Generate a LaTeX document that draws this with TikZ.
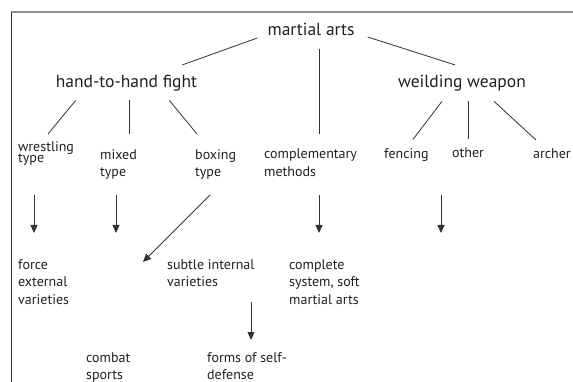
\documentclass[tikz,border=0pt]{standalone}
\usepackage{fontspec}
\setmainfont{PT Sans}
\usetikzlibrary{arrows.meta}
\definecolor{cInk}{RGB}{35,31,32}
\definecolor{cLine}{RGB}{50,50,50}
\definecolor{cFrame}{RGB}{145,145,145}

\begin{document}
\begin{tikzpicture}[
  x=1pt, y=-1pt,
  big/.style={font=\fontsize{17.5}{21}\selectfont, text=cInk, inner sep=0pt},
  small/.style={font=\fontsize{14}{17.5}\selectfont, text=cInk, inner sep=0pt,
    align=left},
  link/.style={cLine, line width=0.8pt},
  arr/.style={-{Triangle[length=8pt,width=7pt]}, cLine, line width=0.8pt},
]
\useasboundingbox (0,0) rectangle (573,382);

% frame
\draw[cFrame, line width=1.3pt] (11,12) -- (573,12);
\draw[cLine, line width=1pt] (11.5,12) -- (11.5,382);

% top levels
\node[big, anchor=base] (martial) at (311,35.5) {martial arts};
\node[big, anchor=base] (hand) at (126.5,87.5) {hand-to-hand fight};
\node[big, anchor=base] (weapon) at (462,87.5) {weilding weapon};

% kinds
\node[small, anchor=north west] (wrestling) at (18,141) {wrestling\\[-6pt]type};
\node[small, anchor=north west] (mixed) at (100,149) {mixed\\type};
\node[small, anchor=north west] (boxing) at (195,149) {boxing\\type};
\node[small, anchor=north west] (complementary) at (264,149)
  {complementary\\methods};
\node[small, anchor=base west] (fencing) at (384,159) {fencing};
\node[small, anchor=base west] (other) at (452,158) {other};
\node[small, anchor=base west] (archer) at (533,159) {archer};

% results
\node[small, anchor=north west] (force) at (18,259)
  {force\\external\\varieties};
\node[small, anchor=north west] (subtle) at (167,259)
  {subtle internal\\varieties};
\node[small, anchor=north west] (complete) at (289,259)
  {complete\\system, soft\\martial arts};
\node[small, anchor=north west] (combat) at (86,352) {combat\\sports};
\node[small, anchor=north west] (forms) at (207,352) {forms of self-\\defense};
\coordinate (weaponend) at (441,233);

% tree
\draw[link] ([shift={(-10,2.5)}]martial.base west) -- ([shift={(-15,-10)}]hand.north east);
\draw[link] ([shift={(8,13.5)}]martial.base) -- ([shift={(55,-15)}]complementary.north west);
\draw[link] ([shift={(13,1.5)}]martial.base east) -- ([shift={(-7,-10)}]weapon.north);
\draw[link] ([shift={(20,9)}]hand.south west) -- ([shift={(30,-7)}]wrestling.north west);
\draw[link] ([shift={(2.5,9)}]hand.south) -- ([shift={(29,-15)}]mixed.north west);
\draw[link] ([shift={(-28,9)}]hand.south east) -- ([shift={(2,-15)}]boxing.north west);
\draw[link] ([shift={(44,10)}]weapon.south west) -- ([shift={(29,-9.5)}]fencing.north west);
\draw[link] ([shift={(6,10)}]weapon.south) -- ([shift={(16,-9)}]other.north west);
\draw[link] ([shift={(-32,10)}]weapon.south east) -- ([shift={(3,-9)}]archer.north west);

% arrows
\draw[arr] ([shift={(16,54)}]wrestling.north west) -- ([shift={(16,-26)}]force.north west);
\draw[arr] ([shift={(16,46)}]mixed.north west) -- ([shift={(30,-119)}]combat.north west);
\draw[arr] ([shift={(15,46)}]boxing.north west) -- ([shift={(57,-90)}]combat.north west);
\draw[arr] ([shift={(55,46)}]complementary.north west) -- ([shift={(30,-26)}]complete.north west);
\draw[arr] ([shift={(-11,47)}]other.north west) -- (weaponend);
\draw[arr] ([shift={(84,43)}]subtle.north west) -- ([shift={(44,-12)}]forms.north west);

\end{tikzpicture}
\end{document}
